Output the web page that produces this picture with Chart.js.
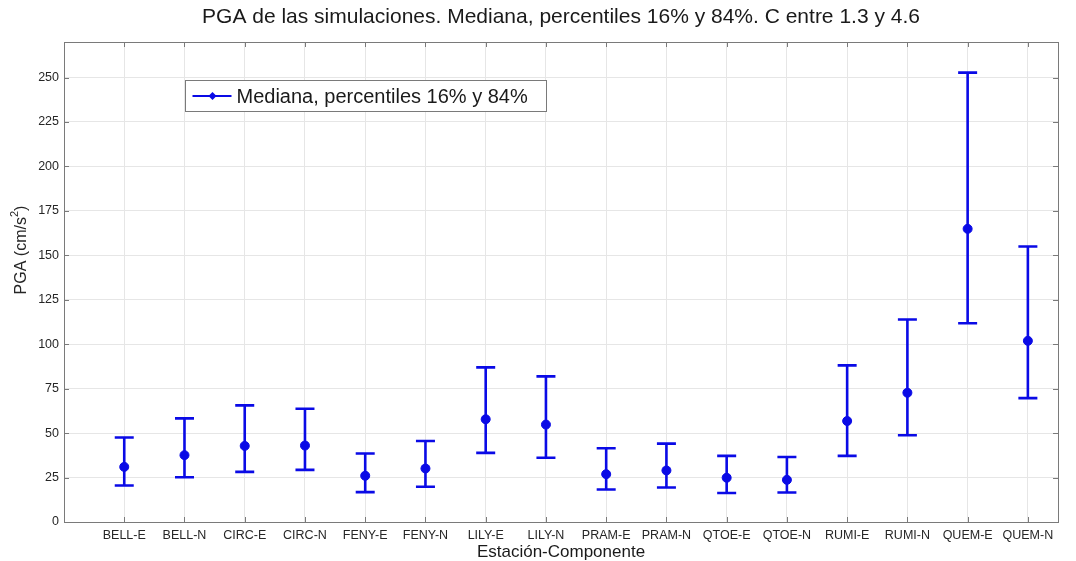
<!DOCTYPE html>
<html lang="es">
<head>
<meta charset="utf-8">
<title>PGA de las simulaciones</title>
<script src="https://cdn.jsdelivr.net/npm/chart.js@4.4.1/dist/chart.umd.min.js"></script>
<style>
  html, body { margin: 0; padding: 0; background: #ffffff; }
  #wrap { width: 1076px; height: 561px; }
</style>
</head>
<body>
<div id="wrap"><canvas id="c" width="1076" height="561"></canvas></div>
<script>
// Estaciones y componentes
const categories = ['BELL-E', 'BELL-N', 'CIRC-E', 'CIRC-N', 'FENY-E', 'FENY-N', 'LILY-E', 'LILY-N',
                    'PRAM-E', 'PRAM-N', 'QTOE-E', 'QTOE-N', 'RUMI-E', 'RUMI-N', 'QUEM-E', 'QUEM-N'];
// PGA (cm/s²): mediana y percentiles 16% / 84%
const median = [31, 37.6, 42.8, 43, 26, 30.1, 57.8, 54.8, 26.9, 29, 24.9, 23.7, 56.8, 72.7, 164.9, 101.9];
const p16    = [20.5, 25.2, 28.2, 29.3, 16.8, 19.8, 38.9, 36.1, 18.3, 19.4, 16.3, 16.6, 37.2, 48.8, 111.8, 69.7];
const p84    = [47.5, 58.3, 65.6, 63.7, 38.5, 45.6, 87, 81.9, 41.5, 44.1, 37.2, 36.6, 88.1, 113.9, 252.8, 155];
const yTickValues = [0, 25, 50, 75, 100, 125, 150, 175, 200, 225, 250];

const BLUE = '#0a0ae6';
const AXIS = '#7a7a7a';
const GRID = '#e6e6e6';
const TEXT = '#262626';

Chart.defaults.font.family = "'Liberation Sans', Arial, Helvetica, sans-serif";

// Barras de error entre percentiles 16% y 84%
const errorBars = {
  id: 'errorBars',
  beforeDatasetsDraw(chart) {
    const { ctx, scales: { x, y } } = chart;
    const half = 9.5;
    ctx.save();
    ctx.strokeStyle = BLUE;
    ctx.lineWidth = 2.6;
    ctx.lineCap = 'butt';
    for (let i = 0; i < categories.length; i++) {
      const px = x.getPixelForValue(i + 1);
      const yl = y.getPixelForValue(p16[i]);
      const yh = y.getPixelForValue(p84[i]);
      ctx.beginPath();
      ctx.moveTo(px, yl); ctx.lineTo(px, yh);
      ctx.moveTo(px - half, yl); ctx.lineTo(px + half, yl);
      ctx.moveTo(px - half, yh); ctx.lineTo(px + half, yh);
      ctx.stroke();
    }
    ctx.restore();
  }
};

// Caja de ejes con marcas hacia dentro
const axesBox = {
  id: 'axesBox',
  beforeDatasetsDraw(chart) {
    const { ctx, chartArea: a, scales: { x, y } } = chart;
    const tl = 5;
    ctx.save();
    ctx.strokeStyle = AXIS;
    ctx.lineWidth = 1;
    ctx.beginPath();
    x.ticks.forEach(t => {
      const px = Math.round(x.getPixelForValue(t.value)) + 0.5;
      ctx.moveTo(px, a.bottom); ctx.lineTo(px, a.bottom - tl);
      ctx.moveTo(px, a.top); ctx.lineTo(px, a.top + tl);
    });
    y.ticks.forEach(t => {
      const py = Math.round(y.getPixelForValue(t.value)) + 0.5;
      ctx.moveTo(a.left, py); ctx.lineTo(a.left + tl, py);
      ctx.moveTo(a.right, py); ctx.lineTo(a.right - tl, py);
    });
    ctx.stroke();
    ctx.strokeRect(Math.round(a.left) + 0.5, Math.round(a.top) + 0.5,
                   Math.round(a.right - a.left), Math.round(a.bottom - a.top));
    ctx.restore();
  }
};

// Leyenda dentro de los ejes y etiqueta del eje Y con superíndice
const annotations = {
  id: 'annotations',
  afterDraw(chart) {
    const { ctx, chartArea: a } = chart;
    const ds = chart.data.datasets[0];
    ctx.save();
    // leyenda
    const bx = 185.5, by = 80.5, bw = 361, bh = 31;
    ctx.fillStyle = '#ffffff';
    ctx.fillRect(bx, by, bw, bh);
    ctx.strokeStyle = AXIS;
    ctx.lineWidth = 1;
    ctx.strokeRect(bx, by, bw, bh);
    const ly = by + bh / 2;
    ctx.strokeStyle = BLUE;
    ctx.lineWidth = 2;
    ctx.beginPath();
    ctx.moveTo(bx + 7, ly); ctx.lineTo(bx + 46, ly);
    ctx.stroke();
    const mx = bx + 27, r = 4;
    ctx.fillStyle = BLUE;
    ctx.beginPath();
    ctx.moveTo(mx, ly - r); ctx.lineTo(mx + r, ly); ctx.lineTo(mx, ly + r); ctx.lineTo(mx - r, ly);
    ctx.closePath();
    ctx.fill();
    ctx.fillStyle = '#1a1a1a';
    ctx.font = "20px 'Liberation Sans', Arial, sans-serif";
    ctx.textBaseline = 'middle';
    ctx.textAlign = 'left';
    ctx.fillText(ds.label, bx + 51, ly + 1);

    // etiqueta del eje Y
    const main = 'PGA (cm/s';
    const sup = '2';
    const tail = ')';
    const fMain = "16px 'Liberation Sans', Arial, sans-serif";
    const fSup = "11px 'Liberation Sans', Arial, sans-serif";
    ctx.font = fMain;
    const wMain = ctx.measureText(main).width;
    const wTail = ctx.measureText(tail).width;
    ctx.font = fSup;
    const wSup = ctx.measureText(sup).width;
    const total = wMain + wSup + wTail;
    ctx.translate(26, 250);
    ctx.rotate(-Math.PI / 2);
    ctx.fillStyle = TEXT;
    ctx.textBaseline = 'alphabetic';
    let cx = -total / 2;
    ctx.font = fMain;
    ctx.fillText(main, cx, 0);
    cx += wMain;
    ctx.font = fSup;
    ctx.fillText(sup, cx, -8);
    cx += wSup;
    ctx.font = fMain;
    ctx.fillText(tail, cx, 0);
    ctx.restore();
  }
};

new Chart(document.getElementById('c'), {
  type: 'scatter',
  data: {
    datasets: [{
      label: 'Mediana, percentiles 16% y 84%',
      data: median.map((v, i) => ({ x: i + 1, y: v })),
      showLine: false,
      pointRadius: 4.5,
      pointHoverRadius: 4.5,
      pointStyle: 'circle',
      backgroundColor: BLUE,
      borderColor: BLUE,
      borderWidth: 1
    }]
  },
  options: {
    responsive: false,
    devicePixelRatio: 1,
    animation: false,
    layout: { padding: { left: 0, right: 18, top: 0, bottom: 0 } },
    plugins: {
      legend: { display: false },
      tooltip: { enabled: false },
      title: {
        display: true,
        fullSize: false,
        text: 'PGA de las simulaciones. Mediana, percentiles 16% y 84%. C entre 1.3 y 4.6',
        color: '#1a1a1a',
        font: { size: 21, weight: 'normal', lineHeight: 1.2 },
        padding: { top: 5, bottom: 11.8 }
      }
    },
    scales: {
      x: {
        type: 'linear',
        min: 0,
        max: 16.5,
        afterBuildTicks: s => { s.ticks = categories.map((_, i) => ({ value: i + 1 })); },
        afterFit: s => { s.height = 39; },
        ticks: {
          autoSkip: false,
          maxRotation: 0,
          padding: 6,
          color: TEXT,
          font: { size: 12.5 },
          callback: v => categories[Math.round(v) - 1]
        },
        grid: { color: GRID, drawTicks: false },
        border: { display: false },
        title: {
          display: true,
          text: 'Estación-Componente',
          color: '#1a1a1a',
          font: { size: 17, lineHeight: 1 },
          padding: { top: 0, bottom: 0 }
        }
      },
      y: {
        type: 'linear',
        min: 0,
        max: 270,
        afterBuildTicks: s => { s.ticks = yTickValues.map(v => ({ value: v })); },
        afterFit: s => { s.width = 64; },
        ticks: {
          padding: 5,
          color: TEXT,
          font: { size: 12.5 }
        },
        grid: { color: GRID, drawTicks: false },
        border: { display: false }
      }
    }
  },
  plugins: [errorBars, axesBox, annotations]
});
</script>
</body>
</html>
